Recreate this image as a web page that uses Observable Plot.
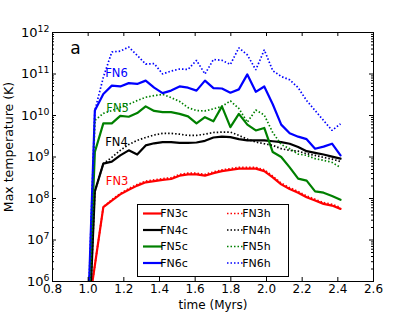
<!DOCTYPE html>
<html><head><meta charset="utf-8">
<script src="https://cdn.jsdelivr.net/npm/d3@7"></script>
<script src="https://cdn.jsdelivr.net/npm/@observablehq/plot@0.6"></script>
<style>
body{margin:0;background:#fff;}
#chart{width:415px;height:312px;}
</style></head><body><div id="chart"></div>
<script>
// time (Myrs) of each snapshot
const times = [0.99, 1.0375, 1.085, 1.1325, 1.18, 1.2275, 1.275, 1.3225, 1.37, 1.4175, 1.465, 1.5125, 1.56, 1.6075, 1.655, 1.7025, 1.75, 1.7975, 1.845, 1.8925, 1.94, 1.9875, 2.035, 2.0825, 2.13, 2.1775, 2.225, 2.2725, 2.32, 2.3675, 2.415];

// log10 of max temperature (K)
const logT_FN3c = [4.99, 6.39, 7.79, 7.95, 8.10, 8.21, 8.31, 8.39, 8.42, 8.45, 8.47, 8.55, 8.58, 8.58, 8.55, 8.61, 8.66, 8.69, 8.72, 8.72, 8.72, 8.66, 8.51, 8.34, 8.23, 8.14, 8.03, 7.95, 7.87, 7.83, 7.75];
const logT_FN4c = [3.3, 8.17, 8.84, 8.89, 9.04, 9.16, 9.06, 9.28, 9.33, 9.36, 9.36, 9.34, 9.34, 9.35, 9.39, 9.47, 9.49, 9.48, 9.43, 9.40, 9.40, 9.40, 9.38, 9.36, 9.32, 9.24, 9.14, 9.10, 9.06, 9.01, 8.96];
const logT_FN5c = [3.9, 9.12, 9.81, 9.81, 9.99, 9.97, 10.06, 10.22, 10.11, 10.08, 10.08, 10.04, 9.98, 9.81, 9.96, 9.86, 10.22, 9.72, 10.04, 9.78, 9.64, 9.70, 9.12, 9.00, 8.75, 8.48, 8.43, 8.17, 8.14, 8.06, 7.97];
const logT_FN6c = [4.0, 10.12, 10.52, 10.72, 10.70, 10.78, 10.76, 10.84, 10.67, 10.54, 10.60, 10.70, 10.67, 10.60, 10.84, 10.66, 10.65, 10.55, 10.63, 10.99, 10.57, 10.70, 10.27, 9.78, 9.57, 9.49, 9.43, 9.20, 9.25, 9.32, 9.04];
const logT_FN3h = [4.99, 6.39, 7.80, 7.97, 8.12, 8.24, 8.34, 8.42, 8.45, 8.48, 8.50, 8.58, 8.61, 8.61, 8.58, 8.64, 8.69, 8.72, 8.75, 8.75, 8.75, 8.69, 8.54, 8.37, 8.26, 8.17, 8.06, 7.98, 7.90, 7.86, 7.78];
const logT_FN4h = [3.3, 8.17, 8.84, 8.99, 9.16, 9.30, 9.40, 9.47, 9.53, 9.57, 9.57, 9.55, 9.52, 9.52, 9.55, 9.59, 9.60, 9.60, 9.52, 9.43, 9.36, 9.32, 9.28, 9.20, 9.16, 9.14, 9.08, 9.04, 8.99, 8.95, 8.89];
const logT_FN5h = [3.4, 9.88, 10.05, 10.12, 10.20, 10.27, 10.36, 10.44, 10.48, 10.51, 10.43, 10.34, 10.19, 10.12, 10.11, 10.16, 10.22, 10.35, 10.17, 9.84, 10.13, 10.01, 9.59, 9.30, 9.20, 9.07, 9.04, 8.96, 8.92, 8.87, 8.75];
const logT_FN6h = [4.0, 10.12, 10.92, 11.53, 11.55, 11.65, 11.45, 11.24, 11.25, 11.00, 11.07, 11.12, 11.11, 11.33, 11.00, 11.35, 11.33, 11.23, 11.63, 11.46, 11.10, 11.58, 11.08, 10.94, 10.86, 10.67, 10.36, 10.12, 9.88, 9.64, 9.80];

const modelNames = ["FN3", "FN4", "FN5", "FN6"];
const modelColors = ["#ff0000", "#000000", "#008000", "#0000ff"];
const coldSeries = [logT_FN3c, logT_FN4c, logT_FN5c, logT_FN6c];
const hotSeries = [logT_FN3h, logT_FN4h, logT_FN5h, logT_FN6h];

// in-plot labels next to curves
const labelTime = [1.162, 1.159, 1.165, 1.159];
const labelLogT = [8.41, 9.35, 10.17, 11.01];

const xTicks = [0.8, 1.0, 1.2, 1.4, 1.6, 1.8, 2.0, 2.2, 2.4, 2.6];
const xTickLabels = ["0.8", "1.0", "1.2", "1.4", "1.6", "1.8", "2.0", "2.2", "2.4", "2.6"];
const yTicks = [1e6, 1e7, 1e8, 1e9, 1e10, 1e11, 1e12];
const yTickExponents = ["6", "7", "8", "9", "10", "11", "12"];
const yMinorTicks = d3.scaleLog().domain([1e6, 1e12]).ticks().filter(v => !yTicks.includes(v));

function rows(arr) { return arr.map((v, i) => ({t: times[i], T: Math.pow(10, v)})); }

const W = 415, H = 312, mL = 52, mR = 42, mT = 32, mB = 31;
const innerW = W - mL - mR, innerH = H - mT - mB;
const DOT = "1.5,2";

const marks = [];
coldSeries.forEach((s, k) => marks.push(Plot.line(rows(s), {x: "t", y: "T", stroke: modelColors[k], strokeWidth: 2.2, clip: true})));
hotSeries.forEach((s, k) => marks.push(Plot.line(rows(s), {x: "t", y: "T", stroke: modelColors[k], strokeWidth: 1.7, strokeDasharray: DOT, strokeLinecap: "butt", strokeLinejoin: "miter", clip: true})));

modelNames.forEach((n, k) => marks.push(Plot.text([n], {x: labelTime[k], y: Math.pow(10, labelLogT[k]), text: d => d, fill: modelColors[k], fontSize: 11.5})));
marks.push(Plot.text(["a"], {x: 0.929, y: Math.pow(10, 11.61), text: d => d, fontSize: 17, fill: "black"}));

// ticks pointing inward on all four sides
marks.push(Plot.tickY(yTicks, {y: d => d, insetRight: innerW - 4, stroke: "black"}));
marks.push(Plot.tickY(yTicks, {y: d => d, insetLeft: innerW - 4, stroke: "black"}));
marks.push(Plot.tickY(yMinorTicks, {y: d => d, insetRight: innerW - 2, stroke: "black"}));
marks.push(Plot.tickY(yMinorTicks, {y: d => d, insetLeft: innerW - 2, stroke: "black"}));
marks.push(Plot.tickX(xTicks, {x: d => d, insetTop: innerH - 4, stroke: "black"}));
marks.push(Plot.tickX(xTicks, {x: d => d, insetBottom: innerH - 4, stroke: "black"}));

marks.push(Plot.axisX(xTicks, {tickSize: 0, tickPadding: 3, tickFormat: d => xTickLabels[xTicks.indexOf(d)], label: null, fontSize: 12}));
marks.push(Plot.axisY(yTicks, {tickSize: 0, tickPadding: 3, tickFormat: d => "10^" + yTickExponents[yTicks.indexOf(d)], label: null, fontSize: 13}));
marks.push(Plot.text(["time (Myrs)"], {frameAnchor: "bottom", lineAnchor: "middle", textAnchor: "middle", dy: 23.5, text: d => d, fontSize: 12, fill: "black"}));
marks.push(Plot.text(["Max temperature (K)"], {frameAnchor: "left", textAnchor: "middle", lineAnchor: "middle", rotate: -90, dx: -44, dy: -10, text: d => d, fontSize: 12.5, fill: "black"}));
marks.push(Plot.frame({stroke: "black"}));

const svg = Plot.plot({
  width: W, height: H,
  marginLeft: mL, marginRight: mR, marginTop: mT, marginBottom: mB,
  style: {fontFamily: "DejaVu Sans", background: "white", color: "black", overflow: "visible"},
  x: {domain: [0.8, 2.6]},
  y: {type: "log", domain: [1e6, 1e12]},
  marks
});
document.getElementById("chart").appendChild(svg);

// superscript exponents on y tick labels
d3.select(svg).selectAll('g[aria-label="y-axis tick label"] text').each(function () {
  const t = d3.select(this);
  const s = t.text();
  if (s.startsWith("10^")) {
    const e = s.slice(3);
    t.text("10");
    t.append("tspan").attr("dy", "-0.5em").attr("font-size", "0.72em").text(e);
  }
});

// legend (inside the axes, like the original)
const lg = d3.select(svg).append("g").attr("font-family", "DejaVu Sans").attr("font-size", 11);
lg.append("rect").attr("x", 137.5).attr("y", 204.5).attr("width", 151).attr("height", 72)
  .attr("fill", "white").attr("stroke", "black").attr("stroke-width", 1);
const rowY = [213.5, 230, 246.5, 263];
modelNames.forEach((n, k) => {
  lg.append("line").attr("x1", 143).attr("x2", 162).attr("y1", rowY[k]).attr("y2", rowY[k])
    .attr("stroke", modelColors[k]).attr("stroke-width", 2.2);
  lg.append("text").attr("x", 174).attr("y", rowY[k]).attr("dy", "0.35em").text(n + "c");
  lg.append("line").attr("x1", 227).attr("x2", 243.5).attr("y1", rowY[k]).attr("y2", rowY[k])
    .attr("stroke", modelColors[k]).attr("stroke-width", 1.7).attr("stroke-dasharray", DOT);
  lg.append("text").attr("x", 256.5).attr("y", rowY[k]).attr("dy", "0.35em").text(n + "h");
});
</script>
</body></html>
